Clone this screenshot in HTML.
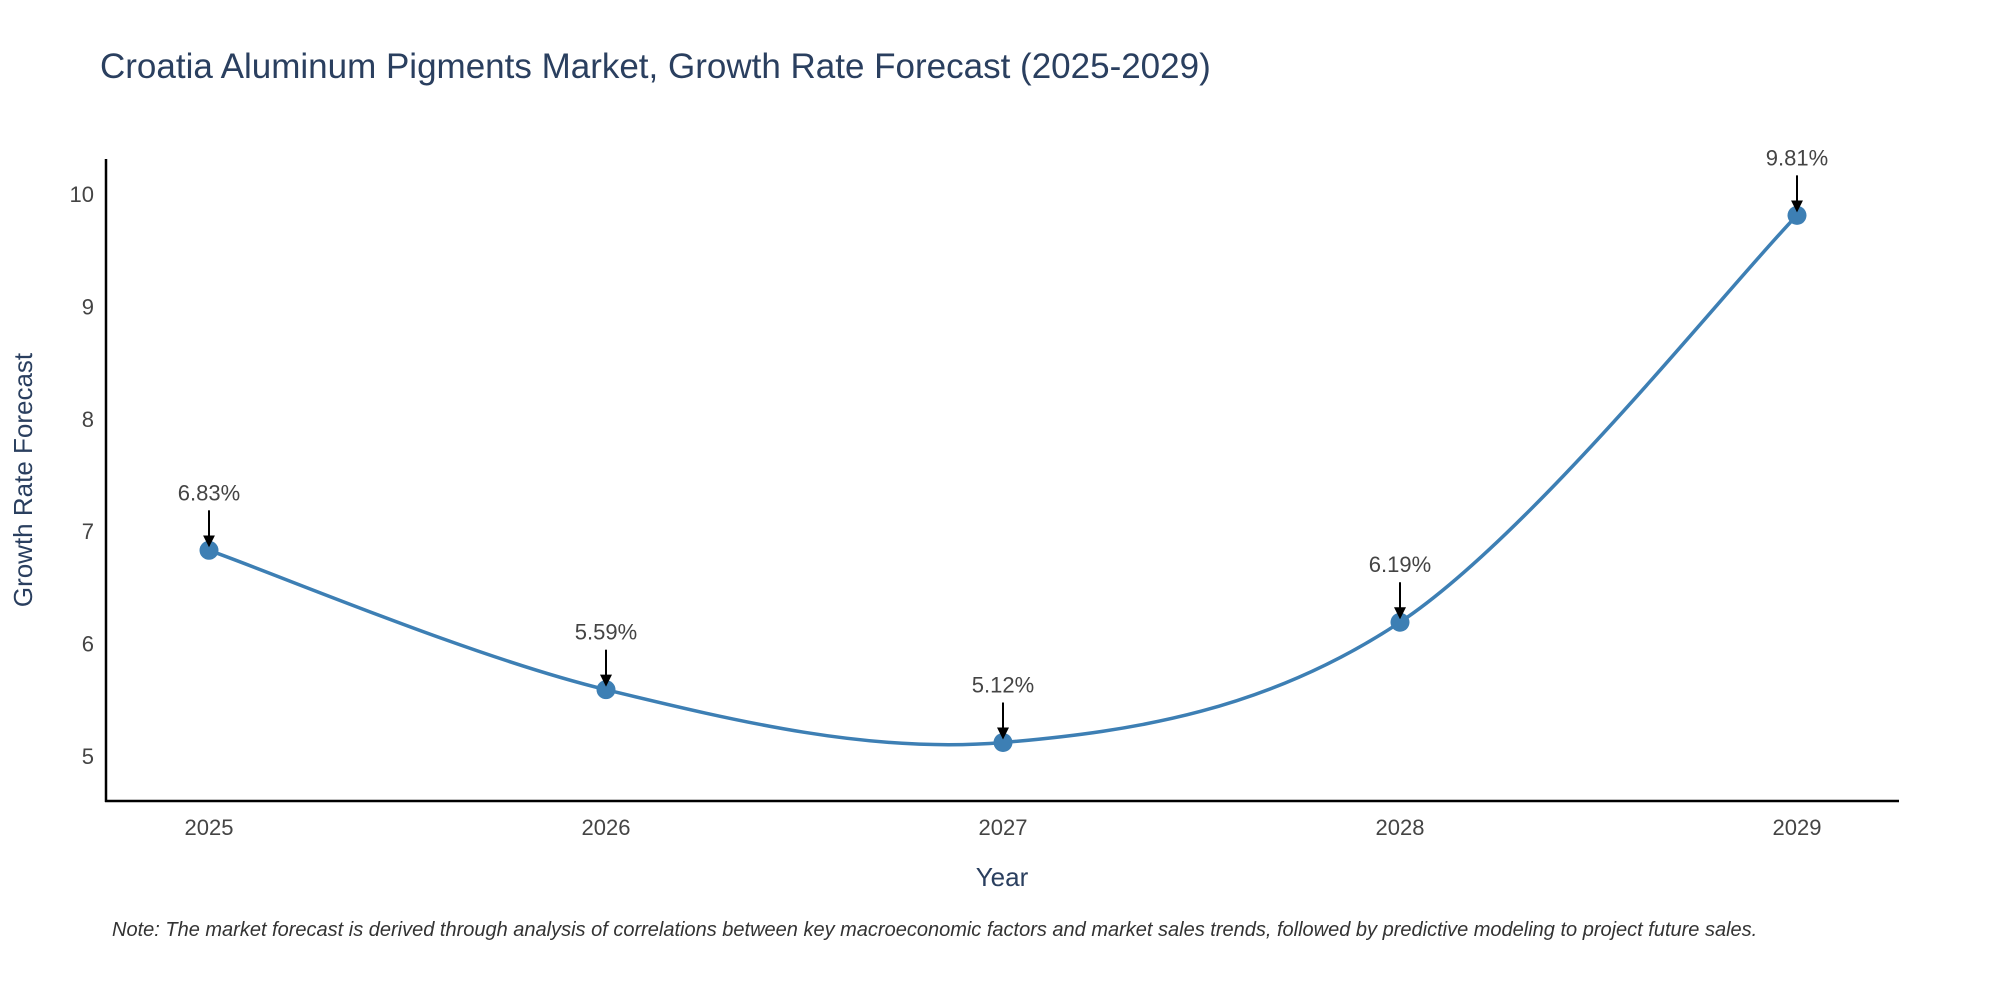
<!DOCTYPE html>
<html><head><meta charset="utf-8"><style>
body{margin:0;background:#fff;}
svg{display:block;font-family:"Liberation Sans",sans-serif;}
</style></head><body>
<svg id="chart" width="2000" height="1000" viewBox="0 0 2000 1000">
<text x="100" y="78" font-size="35" fill="#2a3f5f">Croatia Aluminum Pigments Market, Growth Rate Forecast (2025-2029)</text>
<g id="yticks"></g>
<g id="xticks"></g>
<line x1="106" y1="159" x2="106" y2="802" stroke="#000" stroke-width="2.5"/>
<line x1="105" y1="801" x2="1899" y2="801" stroke="#000" stroke-width="2.5"/>
<path id="line" fill="none" stroke="#3d7fb4" stroke-width="3.5"/>
<g id="points"></g>
<g id="annots"></g>
<text x="1002" y="886" font-size="26" fill="#2a3f5f" text-anchor="middle">Year</text>
<text transform="translate(32,480) rotate(-90)" font-size="26" fill="#2a3f5f" text-anchor="middle">Growth Rate Forecast</text>
<text x="112" y="936" font-size="20" font-style="italic" fill="#333">Note: The market forecast is derived through analysis of correlations between key macroeconomic factors and market sales trends, followed by predictive modeling to project future sales.</text>
<defs><marker id="ah" markerWidth="12" markerHeight="12" refX="10" refY="6" orient="auto" markerUnits="userSpaceOnUse" viewBox="0 0 12 12"><path d="M0,0 L12,6 L0,12 z" fill="#000"/></marker></defs>
</svg>
<script>
const years=["2025","2026","2027","2028","2029"];
const values=[6.83,5.59,5.12,6.19,9.81];
const labels=["6.83%","5.59%","5.12%","6.19%","9.81%"];
const yTicks=[5,6,7,8,9,10];
const NS="http://www.w3.org/2000/svg";
const xs=i=>209+i*397;
const ys=v=>756-(v-5)*112.4;
function mk(t,a,p){const e=document.createElementNS(NS,t);for(const k in a)e.setAttribute(k,a[k]);p.appendChild(e);return e;}
const yt=document.getElementById('yticks');
yTicks.forEach(v=>{const t=mk('text',{x:94,y:ys(v)+8,'font-size':22,fill:'#444','text-anchor':'end'},yt);t.textContent=v;

});
const xt=document.getElementById('xticks');
years.forEach((y,i)=>{const t=mk('text',{x:xs(i),y:835,'font-size':22,fill:'#444','text-anchor':'middle'},xt);t.textContent=y;

});
const P=values.map((v,i)=>[xs(i),ys(v)]);
let d=`M${P[0][0]},${P[0][1]}`;
for(let i=0;i<P.length-1;i++){const p0=P[i-1]||P[i],p1=P[i],p2=P[i+1],p3=P[i+2]||P[i+1];const s=1/6;
d+=` C${p1[0]+(p2[0]-p0[0])*s},${p1[1]+(p2[1]-p0[1])*s} ${p2[0]-(p3[0]-p1[0])*s},${p2[1]-(p3[1]-p1[1])*s} ${p2[0]},${p2[1]}`;}
document.getElementById('line').setAttribute('d',d);
const pts=document.getElementById('points'),an=document.getElementById('annots');
P.forEach((p,i)=>{const c=mk('circle',{cx:p[0],cy:p[1],r:9.5,fill:'#3d7fb4'},pts);


const l=mk('line',{x1:p[0],y1:p[1]-40,x2:p[0],y2:p[1]-5,stroke:'#000','stroke-width':2,'marker-end':'url(#ah)'},an);


const t=mk('text',{x:p[0],y:p[1]-50,'font-size':22,fill:'#444','text-anchor':'middle'},an);t.textContent=labels[i];

});
</script>
</body></html>
